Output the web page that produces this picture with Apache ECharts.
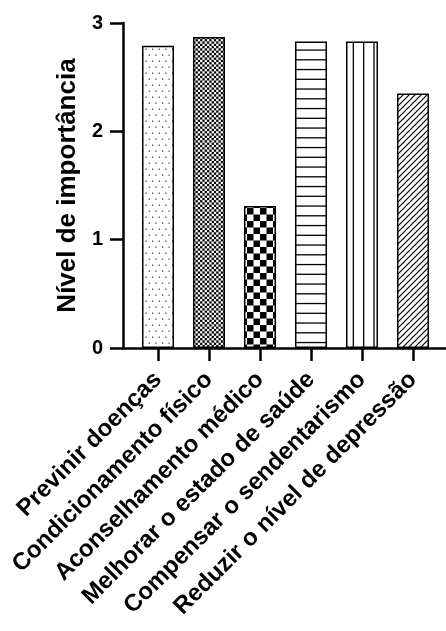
<!DOCTYPE html>
<html><head><meta charset="utf-8">
<script src="https://cdn.jsdelivr.net/npm/echarts@6/dist/echarts.min.js"></script>
<style>html,body{margin:0;padding:0;background:#fff}#c{width:446px;height:631px}</style>
</head><body><div id="c"></div>
<script>
const categories = ['Previnir doenças','Condicionamento físico','Aconselhamento médico','Melhorar o estado de saúde','Compensar o sendentarismo','Reduzir o nível de depressão'];
const values = [2.79, 2.87, 1.31, 2.83, 2.83, 2.35];
const yTicks = [0, 1, 2, 3];
const categoryIndex = [0, 1, 2, 3, 4, 5];
const yTitle = 'Nível de importância';
const FONT = 'Liberation Sans, Arial, Helvetica, sans-serif';

function makeTile(w, h, draw) {
  const c = document.createElement('canvas');
  c.width = w; c.height = h;
  const g = c.getContext('2d');
  g.fillStyle = '#fff'; g.fillRect(0, 0, w, h);
  draw(g);
  return { image: c, repeat: 'repeat' };
}
const patterns = [
  makeTile(33, 12, g => {
    g.fillStyle = '#444';
    for (let k = 0; k < 5; k++) {
      g.fillRect(0.2 + 6.6 * k, 0.5, 1.3, 1.3);
      g.fillRect(3.5 + 6.6 * k, 6.5, 1.3, 1.3);
    }
  }),
  makeTile(23, 23, g => {
    g.fillStyle = '#000';
    for (let i = 0; i < 10; i++) for (let j = 0; j < 10; j++)
      if ((i + j) % 2 === 0) g.fillRect(i * 2.3, j * 2.3, 2.3, 2.3);
  }),
  makeTile(13, 13, g => {
    g.fillStyle = '#000';
    g.fillRect(0, 0, 6.5, 6.5);
    g.fillRect(6.5, 6.5, 6.5, 6.5);
  }),
  makeTile(10, 39, g => {
    g.fillStyle = '#000';
    for (let k = 0; k < 4; k++) g.fillRect(0, 0.65 + 9.75 * k, 10, 1.3);
  }),
  makeTile(31, 10, g => {
    g.fillStyle = '#000';
    for (let k = 0; k < 3; k++) g.fillRect(1.35 + 10.333 * k, 0, 1.3, 10);
  }),
  makeTile(6, 6, g => {
    g.strokeStyle = '#000'; g.lineWidth = 1.2;
    g.beginPath();
    g.moveTo(-1, 1); g.lineTo(1, -1);
    g.moveTo(0, 6); g.lineTo(6, 0);
    g.moveTo(5, 7); g.lineTo(7, 5);
    g.stroke();
  })
];

const chart = echarts.init(document.getElementById('c'), null, { renderer: 'canvas' });
chart.setOption({
  animation: false,
  backgroundColor: '#fff',
  grid: { left: 123, right: 0, top: 23, bottom: 283, containLabel: false, outerBoundsMode: 'none' },
  xAxis: {
    type: 'value', min: -0.686, max: 5.647,
    axisLine: { show: true, onZero: false, lineStyle: { color: '#000', width: 2.5 } },
    axisTick: { show: true, customValues: categoryIndex, length: 13, lineStyle: { color: '#000', width: 2.5 } },
    axisLabel: {
      customValues: categoryIndex, formatter: v => categories[Math.round(v)],
      rotate: 45, margin: 28, fontSize: 24, fontWeight: 'bold', color: '#000', fontFamily: FONT
    },
    splitLine: { show: false }
  },
  yAxis: {
    type: 'value', min: yTicks[0], max: yTicks[yTicks.length - 1], interval: 1,
    name: yTitle, nameLocation: 'middle', nameGap: 41,
    nameTextStyle: { fontSize: 26, fontWeight: 'bold', color: '#000', fontFamily: FONT },
    axisLine: { show: true, onZero: false, lineStyle: { color: '#000', width: 2.5 } },
    axisTick: { show: true, length: 13, lineStyle: { color: '#000', width: 2.5 } },
    axisLabel: {
      margin: 20, color: '#000',
      formatter: v => '{t|' + v + '}',
      rich: { t: { fontSize: 20, fontWeight: 'bold', fontFamily: FONT, color: '#000' } }
    },
    splitLine: { show: false }
  },
  series: [{
    type: 'bar', barWidth: 32, silent: true,
    itemStyle: { borderColor: '#000', borderWidth: 1.5 },
    data: values.map((v, i) => ({ value: [categoryIndex[i], v], itemStyle: { color: patterns[i] } }))
  }]
});
</script></body></html>
